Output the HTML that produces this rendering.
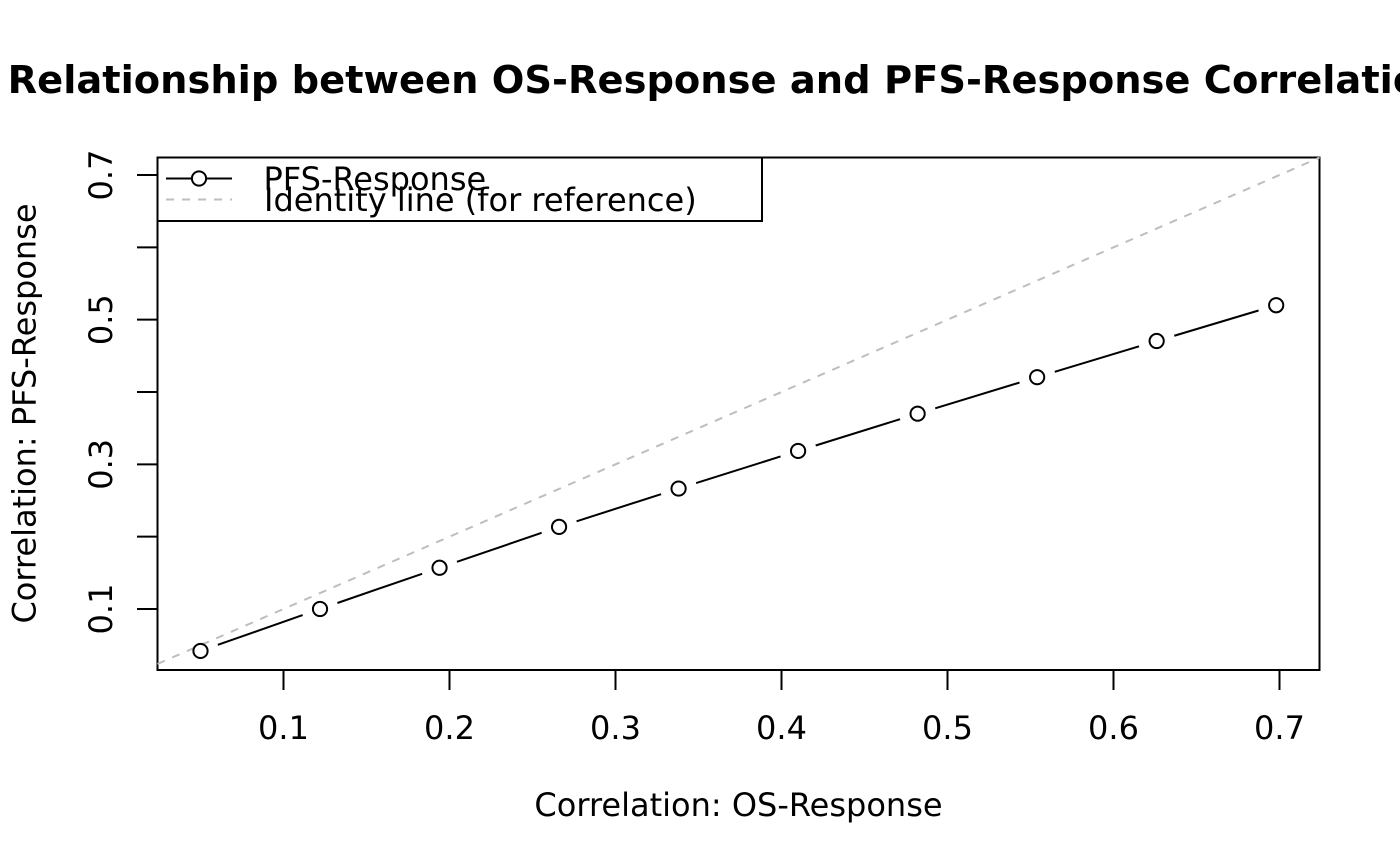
<!DOCTYPE html>
<html>
<head>
<meta charset="utf-8">
<style>
html,body{margin:0;padding:0;background:#fff;width:1400px;height:866px;overflow:hidden}
svg{display:block}
text{font-family:"DejaVu Sans","Liberation Sans",sans-serif;fill:#000}
</style>
</head>
<body>
<svg id="chart" xmlns="http://www.w3.org/2000/svg" width="1400" height="866" viewBox="0 0 1400 866">
<text x="738.5" y="93" text-anchor="middle" font-size="38.4" font-weight="bold">Relationship between OS-Response and PFS-Response Correlations</text>
<text x="738.5" y="816" text-anchor="middle" font-size="32">Correlation: OS-Response</text>
<text transform="translate(35.5 413.5) rotate(-90)" text-anchor="middle" font-size="32">Correlation: PFS-Response</text>
<g id="axes"></g>
<g id="marks"></g>
<g id="legend">
<rect x="157.5" y="157.5" width="604.5" height="63.5" fill="#fff" stroke="#000" stroke-width="2"/>
<line x1="166" y1="178.5" x2="232" y2="178.5" stroke="#000" stroke-width="2"/>
<circle cx="199" cy="178.5" r="7.1" fill="#fff" stroke="#000" stroke-width="2"/>
<line x1="166" y1="199.5" x2="232" y2="199.5" stroke="#bebebe" stroke-width="2" stroke-dasharray="8 8"/>
<text x="263.5" y="190" font-size="32">PFS-Response</text>
<text x="264" y="211" font-size="32">Identity line (for reference)</text>
</g>
</svg>
<script>
var osCorrelation = [0.05, 0.122, 0.194, 0.266, 0.338, 0.41, 0.482, 0.554, 0.626, 0.698];
var pfsCorrelation = [0.042, 0.1, 0.157, 0.2135, 0.2665, 0.3185, 0.37, 0.4205, 0.4705, 0.52];
var xTicks = [0.1, 0.2, 0.3, 0.4, 0.5, 0.6, 0.7];
var yTicks = [0.1, 0.2, 0.3, 0.4, 0.5, 0.6, 0.7];
var yTickLabels = ['0.1', '', '0.3', '', '0.5', '', '0.7'];
var axisLimits = [0.0241, 0.7241];

var NS = 'http://www.w3.org/2000/svg';
function xScale(v) { return 283.5 + (v - 0.1) * 1660; }
function yScale(v) { return 609 - (v - 0.1) * 723.3; }
function add(parent, tag, attrs) {
  var el = document.createElementNS(NS, tag);
  for (var k in attrs) el.setAttribute(k, attrs[k]);
  parent.appendChild(el);
  return el;
}
var axes = document.getElementById('axes');
var marks = document.getElementById('marks');

var frame = add(axes, 'rect', {x: 157.5, y: 157.5, width: 1162, height: 512.5, fill: 'none', stroke: '#000', 'stroke-width': 2});



xTicks.forEach(function (t) {
  var px = xScale(t);
  var tick = add(axes, 'line', {x1: px, y1: 670, x2: px, y2: 690, stroke: '#000', 'stroke-width': 2});
  
  
  var label = add(axes, 'text', {x: px, y: 739, 'text-anchor': 'middle', 'font-size': 32});
  
  
  label.textContent = t.toFixed(1);
});

yTicks.forEach(function (t, i) {
  var py = yScale(t);
  var tick = add(axes, 'line', {x1: 137, y1: py, x2: 157.5, y2: py, stroke: '#000', 'stroke-width': 2});
  
  
  if (yTickLabels[i]) {
    var label = add(axes, 'text', {transform: 'translate(112 ' + py + ') rotate(-90)', 'text-anchor': 'middle', 'font-size': 32});
    
    
    label.textContent = yTickLabels[i];
  }
});

var identity = add(marks, 'line', {
  x1: xScale(axisLimits[0]), y1: yScale(axisLimits[0]),
  x2: xScale(axisLimits[1]), y2: yScale(axisLimits[1]),
  stroke: '#bebebe', 'stroke-width': 2, 'stroke-dasharray': '8 8'
});



var gap = 18.4;
osCorrelation.forEach(function (v, i) {
  var cx = xScale(v), cy = yScale(pfsCorrelation[i]);
  if (i < osCorrelation.length - 1) {
    var nx = xScale(osCorrelation[i + 1]), ny = yScale(pfsCorrelation[i + 1]);
    var dx = nx - cx, dy = ny - cy, d = Math.sqrt(dx * dx + dy * dy);
    var seg = add(marks, 'line', {
      x1: cx + dx / d * gap, y1: cy + dy / d * gap,
      x2: nx - dx / d * gap, y2: ny - dy / d * gap,
      stroke: '#000', 'stroke-width': 2
    });
    
    
  }
  var pt = add(marks, 'circle', {cx: cx, cy: cy, r: 7.1, fill: 'none', stroke: '#000', 'stroke-width': 2});
  
  
});
</script>
</body>
</html>
